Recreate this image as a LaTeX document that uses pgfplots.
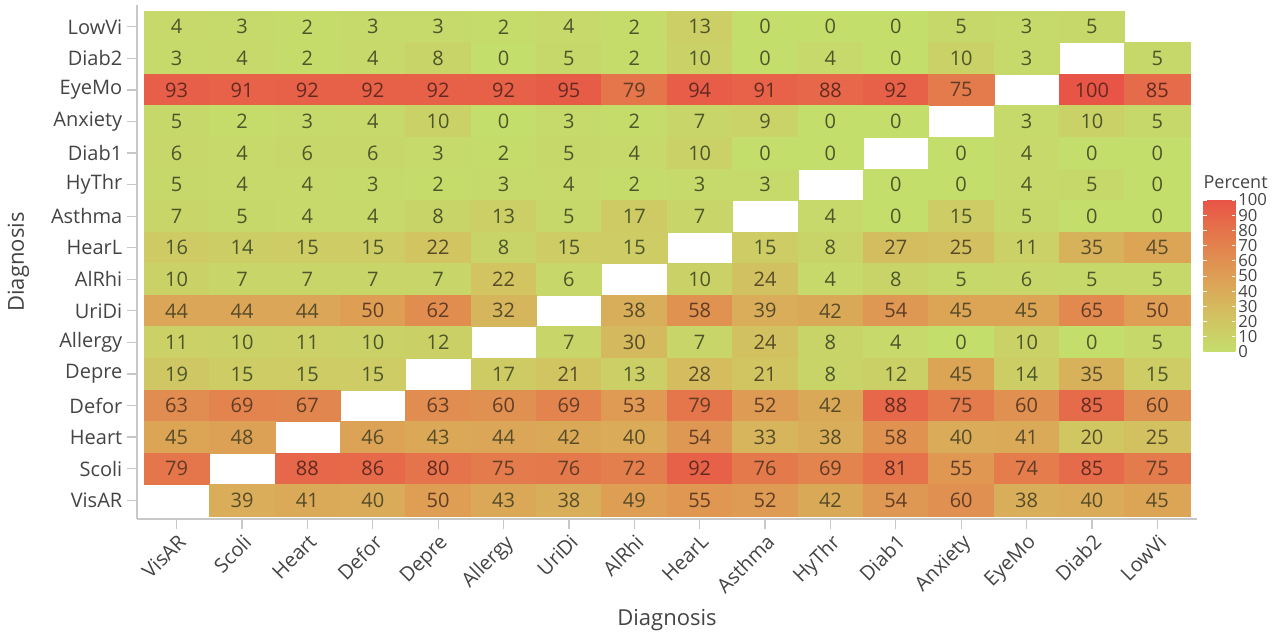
\documentclass[border=0pt]{standalone}
\usepackage{fontspec}
\setmainfont{Open Sans}
\usepackage{pgfplots}
\usepackage{pgfplotstable}
\pgfplotsset{compat=1.18}
\definecolor{txt}{RGB}{68,68,68}
\definecolor{axgray}{RGB}{200,200,200}
\definecolor{ctA}{RGB}{76,86,42}
\definecolor{ctB}{RGB}{88,76,40}
\definecolor{ctC}{RGB}{98,60,36}
\definecolor{ctD}{RGB}{100,42,32}
\newcommand{\celltext}[1]{%
  \ifnum#1<20 \color{ctA}\else\ifnum#1<50 \color{ctB}\else\ifnum#1<80 \color{ctC}\else\color{ctD}\fi\fi\fi#1}

% columns/rows: 0 VisAR,1 Scoli,2 Heart,3 Defor,4 Depre,5 Allergy,6 UriDi,7 AlRhi,
% 8 HearL,9 Asthma,10 HyThr,11 Diab1,12 Anxiety,13 EyeMo,14 Diab2,15 LowVi
\pgfplotstableread{
x y v
0 15 4
1 15 3
2 15 2
3 15 3
4 15 3
5 15 2
6 15 4
7 15 2
8 15 13
9 15 0
10 15 0
11 15 0
12 15 5
13 15 3
14 15 5
0 14 3
1 14 4
2 14 2
3 14 4
4 14 8
5 14 0
6 14 5
7 14 2
8 14 10
9 14 0
10 14 4
11 14 0
12 14 10
13 14 3
15 14 5
0 13 93
1 13 91
2 13 92
3 13 92
4 13 92
5 13 92
6 13 95
7 13 79
8 13 94
9 13 91
10 13 88
11 13 92
12 13 75
14 13 100
15 13 85
0 12 5
1 12 2
2 12 3
3 12 4
4 12 10
5 12 0
6 12 3
7 12 2
8 12 7
9 12 9
10 12 0
11 12 0
13 12 3
14 12 10
15 12 5
0 11 6
1 11 4
2 11 6
3 11 6
4 11 3
5 11 2
6 11 5
7 11 4
8 11 10
9 11 0
10 11 0
12 11 0
13 11 4
14 11 0
15 11 0
0 10 5
1 10 4
2 10 4
3 10 3
4 10 2
5 10 3
6 10 4
7 10 2
8 10 3
9 10 3
11 10 0
12 10 0
13 10 4
14 10 5
15 10 0
0 9 7
1 9 5
2 9 4
3 9 4
4 9 8
5 9 13
6 9 5
7 9 17
8 9 7
10 9 4
11 9 0
12 9 15
13 9 5
14 9 0
15 9 0
0 8 16
1 8 14
2 8 15
3 8 15
4 8 22
5 8 8
6 8 15
7 8 15
9 8 15
10 8 8
11 8 27
12 8 25
13 8 11
14 8 35
15 8 45
0 7 10
1 7 7
2 7 7
3 7 7
4 7 7
5 7 22
6 7 6
8 7 10
9 7 24
10 7 4
11 7 8
12 7 5
13 7 6
14 7 5
15 7 5
0 6 44
1 6 44
2 6 44
3 6 50
4 6 62
5 6 32
7 6 38
8 6 58
9 6 39
10 6 42
11 6 54
12 6 45
13 6 45
14 6 65
15 6 50
0 5 11
1 5 10
2 5 11
3 5 10
4 5 12
6 5 7
7 5 30
8 5 7
9 5 24
10 5 8
11 5 4
12 5 0
13 5 10
14 5 0
15 5 5
0 4 19
1 4 15
2 4 15
3 4 15
5 4 17
6 4 21
7 4 13
8 4 28
9 4 21
10 4 8
11 4 12
12 4 45
13 4 14
14 4 35
15 4 15
0 3 63
1 3 69
2 3 67
4 3 63
5 3 60
6 3 69
7 3 53
8 3 79
9 3 52
10 3 42
11 3 88
12 3 75
13 3 60
14 3 85
15 3 60
0 2 45
1 2 48
3 2 46
4 2 43
5 2 44
6 2 42
7 2 40
8 2 54
9 2 33
10 2 38
11 2 58
12 2 40
13 2 41
14 2 20
15 2 25
0 1 79
2 1 88
3 1 86
4 1 80
5 1 75
6 1 76
7 1 72
8 1 92
9 1 76
10 1 69
11 1 81
12 1 55
13 1 74
14 1 85
15 1 75
1 0 39
2 0 41
3 0 40
4 0 50
5 0 43
6 0 38
7 0 49
8 0 55
9 0 52
10 0 42
11 0 54
12 0 60
13 0 38
14 0 40
15 0 45
}\heat

\begin{document}
\begin{tikzpicture}
\useasboundingbox (0pt,0pt) rectangle (962.25pt,474pt);
\begin{axis}[
  at={(102.75pt,84.75pt)}, anchor=south west,
  scale only axis, width=795pt, height=385.5pt,
  xmin=-0.607, xmax=15.607, ymin=-0.595, ymax=15.69,
  axis lines=left,
  axis line style={draw=axgray, line width=1.1pt, -},
  tick align=outside, major tick length=7.5pt,
  tick style={draw=axgray, line width=0.9pt},
  xtick={0,...,15}, ytick={0,...,15},
  xticklabels={VisAR,Scoli,Heart,Defor,Depre,Allergy,UriDi,AlRhi,HearL,Asthma,HyThr,Diab1,Anxiety,EyeMo,Diab2,LowVi},
  yticklabels={VisAR,Scoli,Heart,Defor,Depre,Allergy,UriDi,AlRhi,HearL,Asthma,HyThr,Diab1,Anxiety,EyeMo,Diab2,LowVi},
  xticklabel style={rotate=45, anchor=north east, font=\fontsize{15}{16}\selectfont, text=txt, inner sep=2pt},
  yticklabel style={font=\fontsize{15}{16}\selectfont, text=txt},
  xlabel={Diagnosis}, ylabel={Diagnosis},
  xlabel style={at={(axis description cs:0.5,0)}, anchor=center, yshift=-76pt, font=\fontsize{16.5}{18}\selectfont, text=txt},
  ylabel style={at={(axis description cs:0,0.5)}, anchor=center, yshift=89pt, font=\fontsize{16.5}{18}\selectfont, text=txt},
  colormap={heat}{rgb255(0cm)=(196,222,108); rgb255(1cm)=(211,192,96); rgb255(2cm)=(222,158,84); rgb255(3cm)=(228,123,76); rgb255(4cm)=(232,84,70)},
  point meta min=0, point meta max=100,
  colorbar,
  colorbar/width=24pt,
  colorbar style={
    scale only axis,
    at={(parent axis.north east)}, anchor=north west,
    xshift=-3.75pt, yshift=-146.25pt,
    width=24pt, height=114pt,
    ytick={0,10,...,100},
    axis line style={draw=none},
    tick align=inside, major tick length=2.5pt,
    tick style={draw=white, line width=0.5pt},
    yticklabel style={font=\fontsize{12.5}{13}\selectfont, text=txt, inner sep=1pt, xshift=1pt},
    /pgf/number format/assume math mode=true,
    title={Percent},
    title style={at={(0,1)}, anchor=south west, inner sep=0pt, yshift=2.5pt, font=\fontsize{13.5}{14}\selectfont, text=txt},
  },
]
\addplot[scatter, only marks, mark=square*, mark size=11.84pt,
  scatter/use mapped color={draw=mapped color, fill=mapped color},
  mark options={xscale=2.0713, line width=0.3pt},
  point meta=explicit
] table[x=x, y=y, meta=v] {\heat};
\addplot[draw=none, mark=none, point meta=explicit symbolic,
  nodes near coords={\celltext{\pgfplotspointmeta}}, nodes near coords align={center},
  every node near coord/.append style={anchor=center, font=\fontsize{15}{16}\selectfont}
] table[x=x, y=y, meta=v] {\heat};
\end{axis}
\end{tikzpicture}
\end{document}
